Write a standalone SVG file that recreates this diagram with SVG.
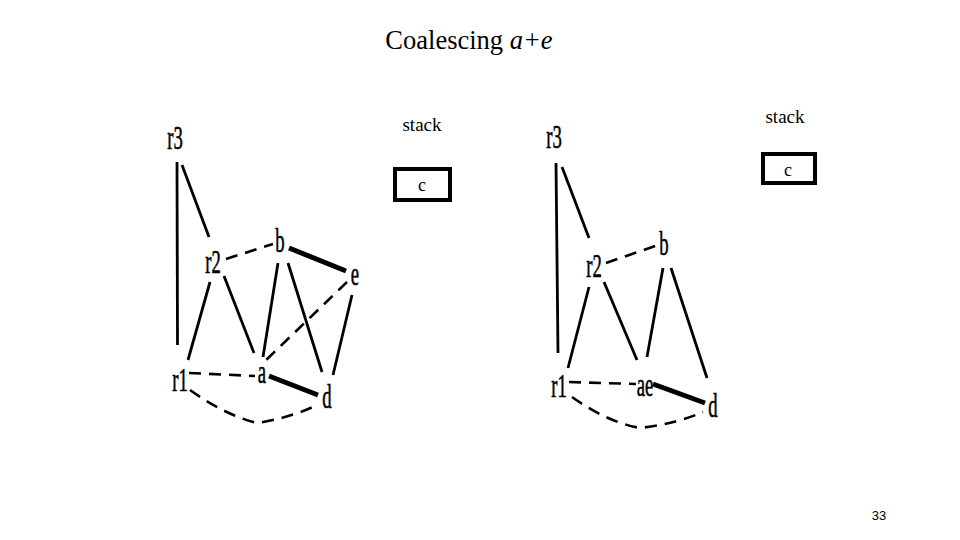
<svg xmlns="http://www.w3.org/2000/svg" width="960" height="540" viewBox="0 0 960 540">
<style>
.lbl{font-family:'Liberation Serif','Times New Roman',serif;font-size:34px;text-anchor:middle;fill:#000;stroke:#000;stroke-width:0.6}
.s{stroke:#000;stroke-width:2.8;fill:none}
.dsh{stroke:#000;stroke-width:2.6;fill:none;stroke-dasharray:12 8}
.thk{stroke:#000;stroke-width:5;fill:none}
.box{fill:#fff;stroke:#000;stroke-width:4}
</style>
<rect width="960" height="540" fill="#fff"/>
<text x="469" y="49" font-family="'Liberation Serif','Times New Roman',serif" font-size="26.5" text-anchor="middle" fill="#000">Coalescing <tspan font-style="italic">a+e</tspan></text>

<g id="stack-left" font-family="'Liberation Serif','Times New Roman',serif" text-anchor="middle" fill="#000">
<text x="422" y="131" font-size="19">stack</text>
<rect class="box" x="395" y="169" width="55" height="31"/>
<text x="422" y="191" font-size="18">c</text>
</g>
<g id="stack-right" font-family="'Liberation Serif','Times New Roman',serif" text-anchor="middle" fill="#000">
<text x="785" y="123" font-size="19">stack</text>
<rect class="box" x="763" y="154" width="52" height="29"/>
<text x="788" y="176" font-size="18">c</text>
</g>

<g id="connectors-left">
<line class="s" x1="177" y1="162" x2="177.5" y2="345"/>
<line class="s" x1="182" y1="165" x2="209" y2="237"/>
<line class="dsh" x1="226" y1="259" x2="273" y2="244"/>
<line class="thk" x1="289" y1="248" x2="346" y2="271"/>
<line class="s" x1="210" y1="282" x2="188" y2="360"/>
<line class="s" x1="224" y1="276" x2="254" y2="353"/>
<line class="s" x1="278" y1="263" x2="263" y2="357"/>
<line class="s" x1="288" y1="263" x2="322" y2="372"/>
<line class="dsh" x1="347" y1="282" x2="263" y2="363"/>
<line class="s" x1="352" y1="295" x2="333" y2="375"/>
<line class="dsh" x1="189" y1="373" x2="255" y2="376"/>
<line class="thk" x1="269" y1="376" x2="318" y2="395"/>
<path class="dsh" d="M190 390 Q225 415 257 423 Q290 418 317 405"/>
</g>
<g id="connectors-right">
<line class="s" x1="556" y1="163" x2="558" y2="353" stroke-width="3"/>
<line class="s" x1="562" y1="167" x2="589" y2="238"/>
<line class="dsh" x1="606" y1="263" x2="658" y2="245"/>
<line class="s" x1="589" y1="287" x2="568" y2="368"/>
<line class="s" x1="604" y1="282" x2="637" y2="360"/>
<line class="s" x1="663" y1="268" x2="647" y2="357"/>
<line class="s" x1="671" y1="268" x2="707" y2="378"/>
<line class="dsh" x1="569" y1="382" x2="636" y2="384"/>
<line class="thk" x1="653" y1="384" x2="705" y2="403"/>
<path class="dsh" d="M572 397 Q607 422 640 428 Q675 424 703 412"/>
</g>

<g id="L-r3"><text class="lbl" transform="translate(175,149) scale(0.55,1)">r3</text></g>
<g id="L-r2"><text class="lbl" transform="translate(213,273) scale(0.55,1)">r2</text></g>
<g id="L-b"><text class="lbl" transform="translate(280,252) scale(0.55,1)">b</text></g>
<g id="L-e"><text class="lbl" transform="translate(355,285) scale(0.55,1)">e</text></g>
<g id="L-r1"><text class="lbl" transform="translate(180,391) scale(0.55,1)">r1</text></g>
<g id="L-a"><text class="lbl" transform="translate(262,383) scale(0.55,1)">a</text></g>
<g id="L-d"><text class="lbl" transform="translate(327,408) scale(0.55,1)">d</text></g>

<g id="R-r3"><text class="lbl" transform="translate(554,148) scale(0.55,1)">r3</text></g>
<g id="R-r2"><text class="lbl" transform="translate(594,277) scale(0.55,1)">r2</text></g>
<g id="R-b"><text class="lbl" transform="translate(664,255) scale(0.55,1)">b</text></g>
<g id="R-r1"><text class="lbl" transform="translate(559,397) scale(0.55,1)">r1</text></g>
<g id="R-ae"><text class="lbl" transform="translate(645,396) scale(0.55,1)">ae</text></g>
<g id="R-d"><text class="lbl" transform="translate(713,417) scale(0.55,1)">d</text></g>

<text x="879" y="520" font-family="'Liberation Sans',Arial,sans-serif" font-size="13" text-anchor="middle" fill="#000">33</text>
</svg>
